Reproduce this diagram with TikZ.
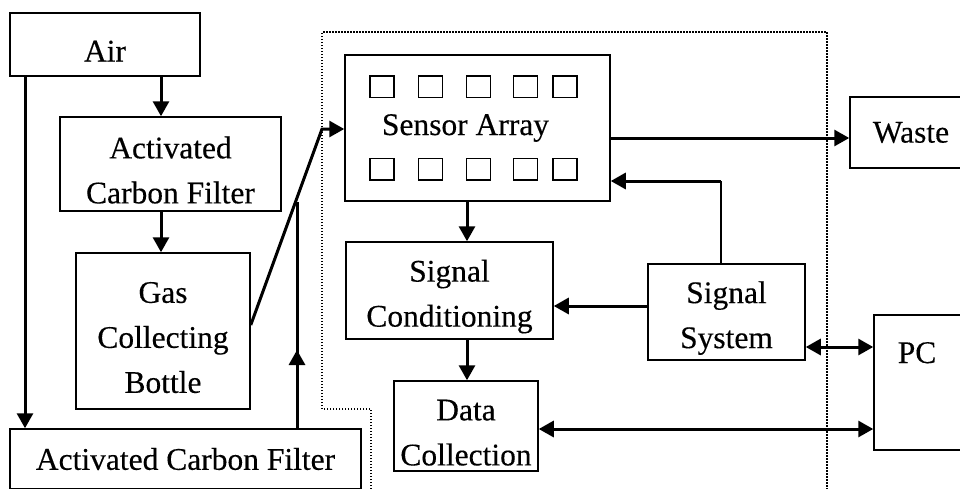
\documentclass[tikz,border=0pt]{standalone}
\usepackage{fontspec}
\setmainfont[FakeBold=0.3]{Liberation Serif}
\usetikzlibrary{arrows.meta}
\newcommand{\tstrut}{\rule{0pt}{34pt}}

\begin{document}
\begin{tikzpicture}[x=1pt,y=-1pt,
  box/.style={draw,line width=1.5pt,align=center,inner sep=0pt,font=\fontsize{31.5}{45}\selectfont},
  cell/.style={draw,line width=1.5pt,minimum width=24pt,minimum height=21.5pt,inner sep=0pt},
  flow/.style={line width=3pt,-{Triangle[length=15pt,width=16pt]}},
  both/.style={line width=3pt,{Triangle[length=15pt,width=16pt]}-{Triangle[length=15pt,width=16pt]}}]

\clip (0,0) rectangle (960,488);

\node[box,minimum width=190pt,minimum height=63pt] (air) at (105,44.5) {\tstrut Air};
\node[box,minimum width=221pt,minimum height=94pt] (acf1) at (170.5,164) {\tstrut Activated\\Carbon Filter};
\node[box,minimum width=174pt,minimum height=156pt] (gcb) at (163,331) {\tstrut Gas\\Collecting\\Bottle};
\node[box,minimum width=351pt,minimum height=60pt] (acf2) at (185.5,459) {Activated Carbon Filter};

\node[box,minimum width=265pt,minimum height=146pt] (sa) at (477.5,128) {Sensor Array\hspace*{24pt}};
\foreach \x [count=\i] in {382,430.5,478.5,525.5,565} {
  \node[cell] (top\i) at (\x,86.5) {};
  \node[cell] (bot\i) at (\x,169) {};
}
\node[box,minimum width=207pt,minimum height=97pt] (sc) at (449.5,290.5) {\tstrut Signal\\Conditioning};
\node[box,minimum width=157pt,minimum height=96pt] (ss) at (726.5,312) {\tstrut Signal\\System};
\node[box,minimum width=144pt,minimum height=90pt] (dc) at (466,426) {\tstrut Data\\Collection};

\node[box,minimum width=122pt,minimum height=71pt] (waste) at (911,132.5) {Waste};
\node[box,minimum width=88pt,minimum height=135pt] (pc) at (918,382.5) {};
\node[font=\fontsize{31.5}{45}\selectfont,anchor=base] (pcname) at (917,363) {PC};

\draw[line width=1.8pt,dash pattern=on 1.5pt off 1.5pt] (371,492) -- (371,409) -- (322,409) -- (322,32) -- (827,32) -- (827,492);

\draw[flow] (161,0 |- air.south) -- (161,0 |- acf1.north);
\draw[flow] (161,0 |- acf1.south) -- (161,0 |- gcb.north);
\draw[flow] (25,0 |- air.south) -- (25,0 |- acf2.north);

\draw[line width=3pt] (297,0 |- acf2.north) -- (297,0 |- sa.south);
\draw[flow] (297,0 |- acf2.north) -- (297,350);

\coordinate (inlet) at (322,129);
\draw[flow] ([yshift=6pt]gcb.east) -- (inlet) -- (inlet -| sa.west);

\draw[flow] (sa.east |- 0,138) -- (waste.west |- 0,138);

\coordinate (bend) at (721,181);
\draw[line width=1.5pt] (bend |- ss.north) -- (bend);
\draw[flow] (bend) -- (bend -| sa.east);

\draw[flow] (ss.west |- 0,306) -- (sc.east |- 0,306);
\draw[flow] (467,0 |- sa.south) -- (467,0 |- sc.north);
\draw[flow] (467,0 |- sc.south) -- (467,0 |- dc.north);

\draw[both] (ss.east |- 0,347) -- (pc.west |- 0,347);
\draw[both] (dc.east |- 0,429) -- (pc.west |- 0,429);

\end{tikzpicture}
\end{document}
